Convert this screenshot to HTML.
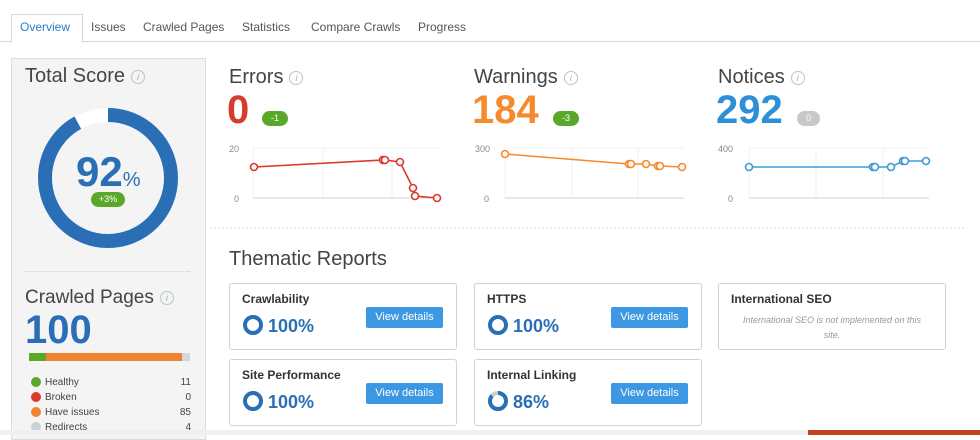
<!DOCTYPE html>
<html><head><meta charset="utf-8"><style>
body{margin:0;width:980px;height:435px;background:#fff;font-family:"Liberation Sans","DejaVu Sans",sans-serif;position:relative;overflow:hidden;color:#333}
.a{position:absolute;white-space:nowrap}
.tab{position:absolute;top:20px;font-size:12px;color:#555}
.h{font-size:20px;color:#444}
.info{display:inline-block;width:12px;height:12px;border:1px solid #b8c4cc;border-radius:50%;font-size:9px;color:#aab;text-align:center;line-height:12px;font-style:italic;vertical-align:middle;margin-left:6px}
.badge{position:absolute;height:15px;border-radius:8px;color:#fff;font-size:9px;text-align:center;line-height:15px}
.card{position:absolute;width:226px;height:65px;border:1px solid #cfd3d6;border-radius:3px;background:#fff}
.ct{position:absolute;left:12px;top:8px;font-size:12px;font-weight:bold;color:#333}
.btn{position:absolute;left:136px;top:23px;width:77px;height:21px;background:#3d98e3;border-radius:2px;color:#fff;font-size:11px;text-align:center;line-height:21px}
.pct{position:absolute;left:38px;top:32px;font-size:18px;font-weight:bold;color:#2a6fb5}
.ring{position:absolute;left:12px;top:30px}
.leg{position:absolute;left:31px;font-size:10px;color:#444;width:160px}
.leg i{display:inline-block;width:10px;height:10px;border-radius:50%;vertical-align:middle;margin-right:4px}
.leg b{float:right;font-weight:normal}
</style></head><body>
<div class="a" style="left:0;top:41px;width:980px;height:1px;background:#d8d8d8"></div>
<div class="a" style="left:11px;top:14px;width:70px;height:28px;border:1px solid #d8d8d8;border-bottom:none;background:#fff"></div>
<div class="tab" style="left:20px;color:#2a7dc4">Overview</div>
<div class="tab" style="left:91px">Issues</div>
<div class="tab" style="left:143px">Crawled Pages</div>
<div class="tab" style="left:242px">Statistics</div>
<div class="tab" style="left:311px">Compare Crawls</div>
<div class="tab" style="left:418px">Progress</div>

<div class="a" style="left:11px;top:58px;width:193px;height:380px;background:#f4f4f4;border:1px solid #dcdcdc"></div>
<div class="a h" style="left:25px;top:65px">Total Score<span class="info">i</span></div>
<svg class="a" style="left:38px;top:108px" width="140" height="140"><circle cx="70" cy="70" r="63" fill="none" stroke="#fff" stroke-width="14"/><circle cx="70" cy="70" r="63" fill="none" stroke="#2a6fb5" stroke-width="14" stroke-dasharray="364.2 400" transform="rotate(-90 70 70)"/></svg>
<div class="a" style="left:76px;top:148px;font-size:42px;font-weight:bold;color:#2a6fb5">92<span style="font-size:20px;font-weight:normal">%</span></div>
<div class="badge" style="left:91px;top:192px;width:34px;background:#5aa829">+3%</div>
<div class="a" style="left:25px;top:271px;width:165px;border-top:1px dotted #ccc"></div>
<div class="a h" style="left:25px;top:287px;font-size:19px">Crawled Pages<span class="info">i</span></div>
<div class="a" style="left:25px;top:308px;font-size:40px;font-weight:bold;color:#2a6fb5">100</div>
<div class="a" style="left:29px;top:353px;width:17px;height:8px;background:#5aa829"></div>
<div class="a" style="left:46px;top:353px;width:136px;height:8px;background:#f08233"></div>
<div class="a" style="left:182px;top:353px;width:8px;height:8px;background:#d3d8da"></div>
<div class="leg" style="top:377px"><i style="background:#5aa829"></i>Healthy<b>11</b></div>
<div class="leg" style="top:392px"><i style="background:#d93a2c"></i>Broken<b>0</b></div>
<div class="leg" style="top:407px"><i style="background:#f08233"></i>Have issues<b>85</b></div>
<div class="leg" style="top:422px"><i style="background:#cdd3d5"></i>Redirects<b>4</b></div>

<div class="a h" style="left:229px;top:66px">Errors<span class="info">i</span></div>
<div class="a" style="left:227px;top:88px;font-size:40px;font-weight:bold;color:#d93a2c">0</div>
<div class="badge" style="left:262px;top:111px;width:26px;background:#5aa829">-1</div>
<div class="a h" style="left:474px;top:66px">Warnings<span class="info">i</span></div>
<div class="a" style="left:472px;top:88px;font-size:40px;font-weight:bold;color:#f58a2e">184</div>
<div class="badge" style="left:553px;top:111px;width:26px;background:#5aa829">-3</div>
<div class="a h" style="left:718px;top:66px">Notices<span class="info">i</span></div>
<div class="a" style="left:716px;top:88px;font-size:40px;font-weight:bold;color:#2d8fd6">292</div>
<div class="badge" style="left:797px;top:111px;width:23px;background:#c8c8c8">0</div>

<svg class="a" style="left:0;top:0" width="980" height="240" font-family="Liberation Sans" font-size="9" fill="#888">
<g stroke="#eef1f5"><line x1="253" y1="148" x2="440" y2="148"/><line x1="253" y1="148" x2="253" y2="198"/><line x1="323" y1="148" x2="323" y2="198"/><line x1="392" y1="148" x2="392" y2="198"/>
<line x1="505" y1="148" x2="684" y2="148"/><line x1="505" y1="148" x2="505" y2="198"/><line x1="572" y1="148" x2="572" y2="198"/><line x1="638" y1="148" x2="638" y2="198"/>
<line x1="749" y1="148" x2="929" y2="148"/><line x1="749" y1="148" x2="749" y2="198"/><line x1="816" y1="148" x2="816" y2="198"/><line x1="883" y1="148" x2="883" y2="198"/></g>
<g stroke="#c9d6ea"><line x1="253" y1="198" x2="440" y2="198"/><line x1="505" y1="198" x2="684" y2="198"/><line x1="749" y1="198" x2="929" y2="198"/></g>
<text x="229" y="152">20</text><text x="234" y="202">0</text>
<text x="475" y="152">300</text><text x="484" y="202">0</text>
<text x="718" y="152">400</text><text x="728" y="202">0</text>
<g fill="#fff" stroke-width="1.6">
<polyline fill="none" stroke="#d93a2c" points="254,167 383,160 385,160 400,162 413,188 415,196 437,198"/>
<g stroke="#d93a2c"><circle cx="254" cy="167" r="3.5"/><circle cx="383" cy="160" r="3.5"/><circle cx="385" cy="160" r="3.5"/><circle cx="400" cy="162" r="3.5"/><circle cx="413" cy="188" r="3.5"/><circle cx="415" cy="196" r="3.5"/><circle cx="437" cy="198" r="3.5"/></g>
<polyline fill="none" stroke="#f58a2e" points="505,154 629,164 631,164 646,164 658,166 660,166 682,167"/>
<g stroke="#f58a2e"><circle cx="505" cy="154" r="3.5"/><circle cx="629" cy="164" r="3.5"/><circle cx="631" cy="164" r="3.5"/><circle cx="646" cy="164" r="3.5"/><circle cx="658" cy="166" r="3.5"/><circle cx="660" cy="166" r="3.5"/><circle cx="682" cy="167" r="3.5"/></g>
<polyline fill="none" stroke="#3b9bd8" points="749,167 873,167 875,167 891,167 903,161 905,161 926,161"/>
<g stroke="#3b9bd8"><circle cx="749" cy="167" r="3.5"/><circle cx="873" cy="167" r="3.5"/><circle cx="875" cy="167" r="3.5"/><circle cx="891" cy="167" r="3.5"/><circle cx="903" cy="161" r="3.5"/><circle cx="905" cy="161" r="3.5"/><circle cx="926" cy="161" r="3.5"/></g>
</g>
<line x1="210" y1="228" x2="965" y2="228" stroke="#ddd" stroke-dasharray="2,2"/>
</svg>

<div class="a h" style="left:229px;top:248px">Thematic Reports</div>

<div class="card" style="left:229px;top:283px"><div class="ct">Crawlability</div>
<svg class="ring" width="22" height="22"><circle cx="11" cy="11" r="8" fill="none" stroke="#2a6fb5" stroke-width="4"/></svg>
<div class="pct">100%</div><div class="btn">View details</div></div>
<div class="card" style="left:474px;top:283px"><div class="ct">HTTPS</div>
<svg class="ring" width="22" height="22"><circle cx="11" cy="11" r="8" fill="none" stroke="#2a6fb5" stroke-width="4"/></svg>
<div class="pct">100%</div><div class="btn">View details</div></div>
<div class="card" style="left:718px;top:283px"><div class="ct">International SEO</div>
<div class="a" style="left:0;width:226px;top:29px;font-size:9px;font-style:italic;color:#999;text-align:center;white-space:normal;line-height:15px">International SEO is not implemented on this<br>site.</div></div>
<div class="card" style="left:229px;top:359px"><div class="ct">Site Performance</div>
<svg class="ring" width="22" height="22"><circle cx="11" cy="11" r="8" fill="none" stroke="#2a6fb5" stroke-width="4"/></svg>
<div class="pct">100%</div><div class="btn">View details</div></div>
<div class="card" style="left:474px;top:359px"><div class="ct">Internal Linking</div>
<svg class="ring" width="22" height="22"><circle cx="11" cy="11" r="8" fill="none" stroke="#ccc" stroke-width="4"/><circle cx="11" cy="11" r="8" fill="none" stroke="#2a6fb5" stroke-width="4" stroke-dasharray="43.2 60" transform="rotate(-90 11 11)"/></svg>
<div class="pct">86%</div><div class="btn">View details</div></div>

<div class="a" style="left:0;top:430px;width:980px;height:5px;background:#f0f0f0"></div>
<div class="a" style="left:808px;top:430px;width:172px;height:5px;background:#c0431f"></div>
</body></html>
